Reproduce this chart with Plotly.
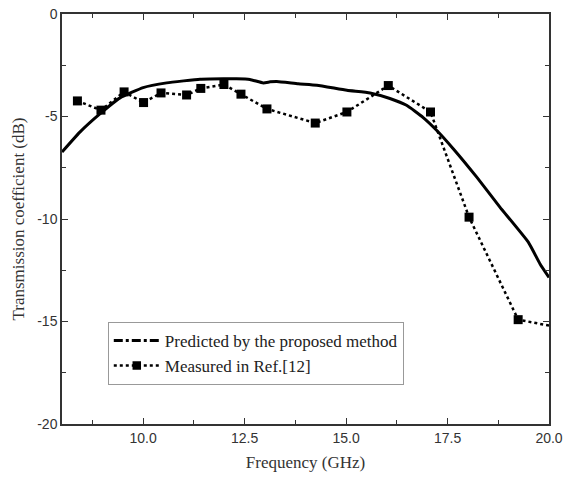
import plotly.graph_objects as go

# Predicted by the proposed method
pred_freq = [8.0, 8.44, 8.94, 9.43, 10.0, 10.58, 11.4, 11.65, 12.3, 12.63, 12.96, 13.13, 13.29,
             13.82, 14.28, 15.02, 15.59, 16.08, 16.49, 16.9, 17.23, 17.64, 18.22, 18.79,
             19.49, 19.78, 20.0]
pred_s21 = [-6.73, -5.76, -4.86, -4.09, -3.59, -3.36, -3.18, -3.17, -3.16, -3.19, -3.36, -3.31, -3.29,
            -3.40, -3.47, -3.72, -3.85, -4.12, -4.45, -5.05, -5.67, -6.57, -7.96, -9.42,
            -11.13, -12.19, -12.85]

# Measured in Ref.[12]
meas_freq = [8.38, 8.96, 9.53, 10.01, 10.44, 11.07, 11.42, 11.99, 12.41, 13.05, 14.24, 15.02,
             16.04, 17.08, 18.03, 19.24, 20.0]
meas_s21 = [-4.24, -4.69, -3.80, -4.32, -3.85, -3.95, -3.63, -3.44, -3.91, -4.63, -5.32, -4.78,
            -3.49, -4.78, -9.91, -14.91, -15.2]
meas_marker_size = [9] * 16 + [0]

x_ticks = [10.0, 12.5, 15.0, 17.5, 20.0]
x_tick_labels = ["10.0", "12.5", "15.0", "17.5", "20.0"]
y_ticks = [0, -5, -10, -15, -20]
y_tick_labels = ["0", "-5", "-10", "-15", "-20"]

fig = go.Figure()
fig.add_trace(go.Scatter(x=pred_freq, y=pred_s21, mode="lines",
                         line=dict(color="#000000", width=3, shape="spline", smoothing=0.4),
                         showlegend=False))
fig.add_trace(go.Scatter(x=[None], y=[None], mode="lines",
                         line=dict(color="#000000", width=3, dash="dashdot"),
                         name="Predicted by the proposed method"))
fig.add_trace(go.Scatter(x=meas_freq, y=meas_s21, mode="lines+markers",
                         line=dict(color="#000000", width=2.5, dash="dot"),
                         marker=dict(symbol="square", size=meas_marker_size, color="#000000",
                                     opacity=1, line=dict(width=0)),
                         name="Measured in Ref.[12]"))

axis_common = dict(showline=True, linecolor="#333", linewidth=1.5, mirror="ticks",
                   ticks="inside", ticklen=6, tickwidth=1.2, tickcolor="#333",
                   showgrid=False, zeroline=False, automargin=False,
                   tickfont=dict(family="Liberation Sans, Arial", size=14, color="#333"))

fig.update_xaxes(range=[8, 20], tickvals=x_ticks, ticktext=x_tick_labels,
                 minor=dict(ticks="inside", ticklen=4, tickcolor="#333", dtick=1.25, tick0=8.75),
                 title=dict(text="Frequency (GHz)", standoff=12,
                            font=dict(family="Liberation Serif, Times New Roman", size=17, color="#333")),
                 **axis_common)
fig.update_yaxes(range=[-20, 0], tickvals=y_ticks, ticktext=y_tick_labels,
                 minor=dict(ticks="inside", ticklen=4, tickcolor="#333", dtick=2.5, tick0=0),
                 title=dict(text="Transmission coefficient (dB)", standoff=8,
                            font=dict(family="Liberation Serif, Times New Roman", size=17, color="#333")),
                 **axis_common)

fig.update_layout(
    width=564, height=482,
    margin=dict(l=62, r=15, t=14, b=58),
    plot_bgcolor="white", paper_bgcolor="white",
    legend=dict(x=0.094, y=0.249, xanchor="left", yanchor="top",
                bgcolor="white", bordercolor="#999", borderwidth=1,
                font=dict(family="Liberation Serif, Times New Roman", size=17, color="#222"),
                tracegroupgap=0, itemwidth=46),
)

fig.write_html("out.html", config={"displayModeBar": False},
               post_script="document.body.style.margin='0';")
